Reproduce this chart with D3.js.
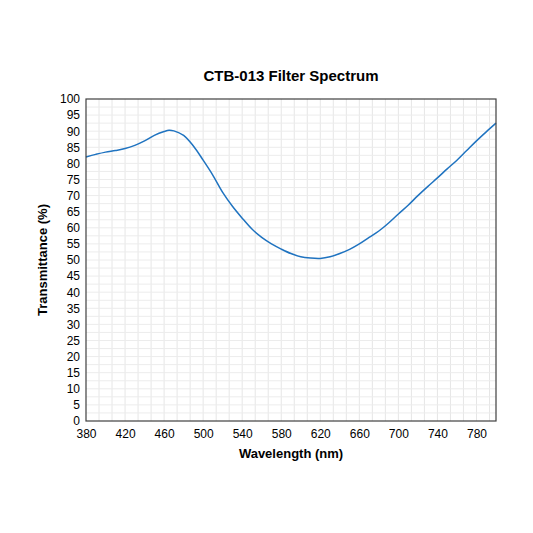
<!DOCTYPE html><html><head><meta charset="utf-8"><script src="https://cdn.jsdelivr.net/npm/d3@7"></script>
<style>body{margin:0;background:#fff}text{font-family:Arial,"Liberation Sans",sans-serif}</style></head><body><svg id="c" width="533" height="533"></svg><script>
const wavelengths=[380,390,400,410,420,430,440,450,460,465,470,480,490,500,510,520,530,540,550,560,570,580,590,600,610,620,630,640,650,660,670,680,690,700,710,720,730,740,750,760,770,780,790,800];
const transmittance=[82,82.8,83.5,84,84.6,85.6,87,88.7,89.9,90.3,90.1,88.7,85.4,81,76.3,71,66.7,63,59.6,57,55,53.4,52,51,50.6,50.5,51,52,53.3,55,57,59,61.5,64.3,67,70,72.8,75.5,78.3,81,84,87,89.8,92.5];
const xTicks=d3.range(380,801,40), yTicks=d3.range(0,101,5);
const svg=d3.select("#c"),L=86,R=496,T=99,B=421;
const x=d3.scaleLinear().domain([380,800]).range([L,R]);
const y=d3.scaleLinear().domain([0,100]).range([B,T]);
const g=svg.append("g");
g.selectAll(".vg").data(d3.range(1,32).map(i=>380+i*40/3)).join("line").attr("x1",d=>x(d)).attr("x2",d=>x(d)).attr("y1",T).attr("y2",B).attr("stroke","#e6e6e6");
g.selectAll(".hg").data(d3.range(2.5,100,2.5)).join("line").attr("y1",d=>y(d)).attr("y2",d=>y(d)).attr("x1",L).attr("x2",R).attr("stroke","#ececec");
svg.append("path").datum(wavelengths.map((w,i)=>[w,transmittance[i]])).attr("fill","none").attr("stroke","#1f73c0").attr("stroke-width",1.5).attr("d",d3.line().x(d=>x(d[0])).y(d=>y(d[1])).curve(d3.curveCatmullRom));
svg.append("rect").attr("x",L).attr("y",T).attr("width",R-L).attr("height",B-T).attr("fill","none").attr("stroke","#404040").attr("stroke-width",1.2);
svg.append("g").attr("transform",`translate(0,${B})`).call(d3.axisBottom(x).tickValues(xTicks).tickSize(0).tickPadding(8)).call(a=>{a.select(".domain").remove();a.selectAll("text").attr("font-size",12).attr("fill","#000")});
svg.append("g").attr("transform",`translate(${L},0)`).call(d3.axisLeft(y).tickValues(yTicks).tickSize(0).tickPadding(6)).call(a=>{a.select(".domain").remove();a.selectAll("text").attr("font-size",12).attr("fill","#000")});
svg.append("text").attr("x",291).attr("y",81).attr("text-anchor","middle").attr("font-size",15).attr("font-weight","bold").text("CTB-013 Filter Spectrum");
svg.append("text").attr("x",291).attr("y",458).attr("text-anchor","middle").attr("font-size",13).attr("font-weight","bold").text("Wavelength (nm)");
svg.append("text").attr("transform","translate(47,260) rotate(-90)").attr("text-anchor","middle").attr("font-size",13).attr("font-weight","bold").text("Transmittance (%)");
</script></body></html>
